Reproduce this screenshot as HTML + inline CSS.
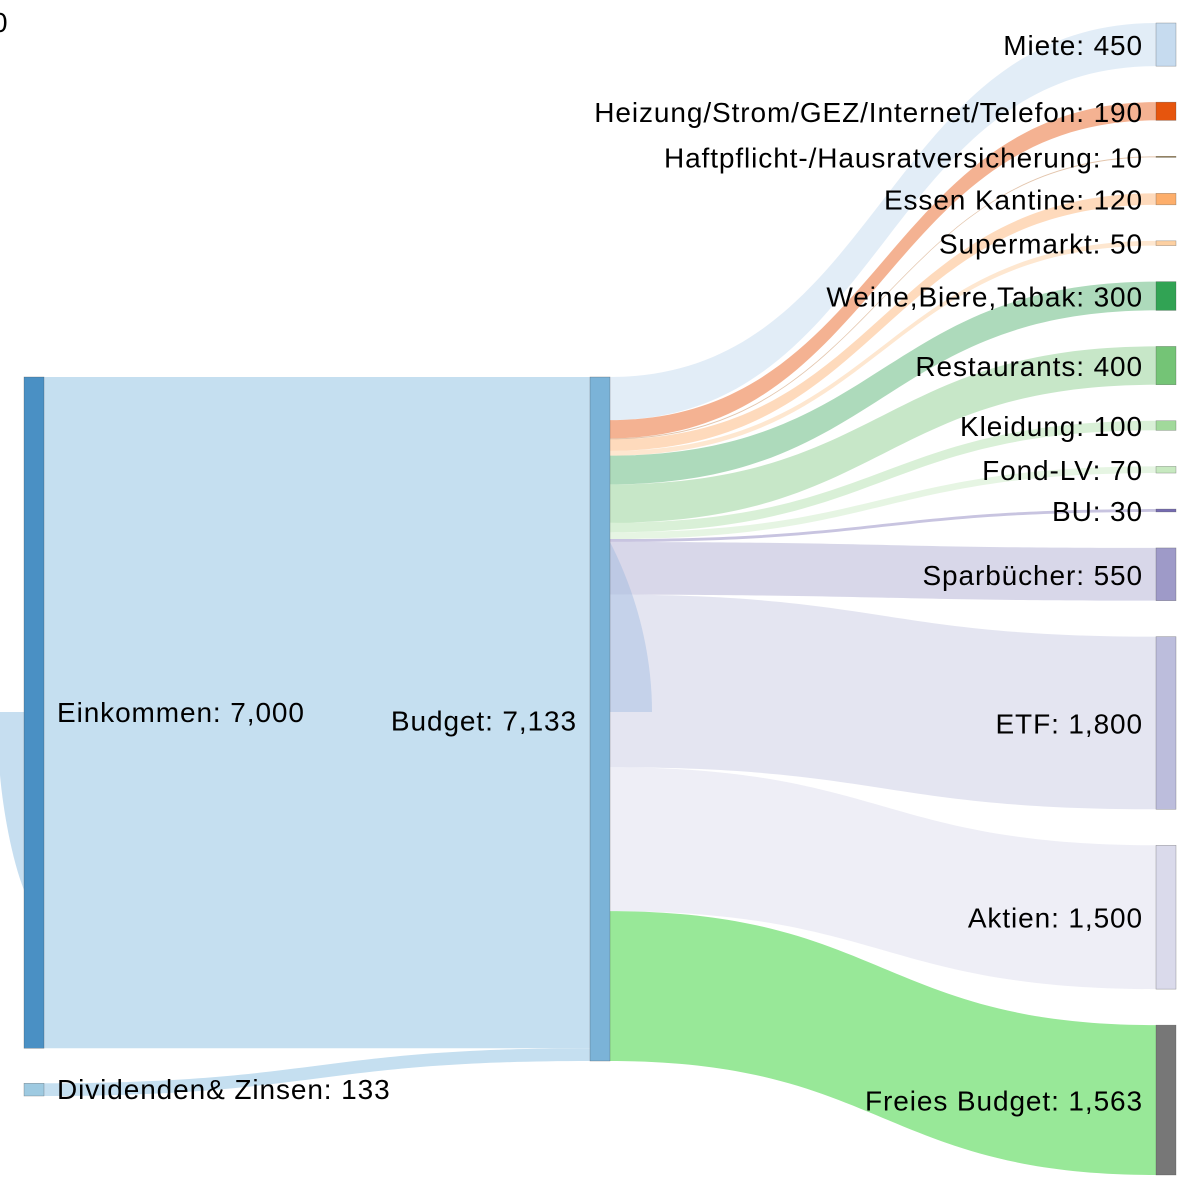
<!DOCTYPE html>
<html><head><meta charset="utf-8">
<style>
html,body{margin:0;padding:0;background:#fff;}
svg{display:block;}
text{font-family:"Liberation Sans",Arial,sans-serif;font-size:28px;letter-spacing:0.9px;fill:#000;}
</style></head>
<body>
<svg id="chart" width="1200" height="1200" viewBox="0 0 1200 1200">
<text x="-8" y="32">0</text>
<g id="links"></g>
<path d="M609,540 C640,600 652,660 652,712 L609,712 Z" fill="rgba(140,175,220,0.35)"/>
<path d="M0,712 L24,712 L24,890 C12,860 3,810 0,775 Z" fill="rgba(160,200,230,0.6)"/>
<g id="nodes"></g>
<g id="labels"></g>
</svg>
<script>
const targetNames = ["Miete","Heizung/Strom/GEZ/Internet/Telefon","Haftpflicht-/Hausratversicherung","Essen Kantine","Supermarkt","Weine,Biere,Tabak","Restaurants","Kleidung","Fond-LV","BU","Sparbücher","ETF","Aktien","Freies Budget"];
const targetValues = [450,190,10,120,50,300,400,100,70,30,550,1800,1500,1563];
const sourceNames = ["Einkommen","Dividenden& Zinsen"];
const sourceValues = [7000,133];
const targetColors = ["#c6dbef","#e6550d","#8c6d31","#fdae6b","#fdd0a2","#31a354","#74c476","#a1d99b","#c7e9c0","#756bb1","#9e9ac8","#bcbddc","#dadaeb","#777777"];
const linkColors = ["rgba(198,219,239,0.5)","rgba(230,85,13,0.45)","rgba(200,140,90,0.5)","rgba(253,174,107,0.45)","rgba(253,208,162,0.5)","rgba(49,163,84,0.4)","rgba(116,196,118,0.4)","rgba(161,217,155,0.4)","rgba(199,233,192,0.45)","rgba(117,107,177,0.4)","rgba(158,154,200,0.4)","rgba(188,189,220,0.4)","rgba(218,218,235,0.45)","#98e898"];

const NS="http://www.w3.org/2000/svg";
const total = sourceValues.reduce((a,b)=>a+b,0);
const top0 = 377, k = 684/total, gapR = (1175-23-total*k)/(targetValues.length-1), gapL = 35;
const xL=24, xM=590, xR=1156, nw=20;
const linksG=document.getElementById('links'), nodesG=document.getElementById('nodes'), labelsG=document.getElementById('labels');
function fmt(v){return v.toLocaleString('en-US');}
function link(x0,y0a,y0b,x1,y1a,y1b,fill,name){
  const p=document.createElementNS(NS,'path');
  const xm=(x0+x1)/2;
  p.setAttribute('d',`M${x0},${y0a} C${xm},${y0a} ${xm},${y1a} ${x1},${y1a} L${x1},${y1b} C${xm},${y1b} ${xm},${y0b} ${x0},${y0b} Z`);
  p.setAttribute('fill',fill);
  
  
  linksG.appendChild(p);
}
function node(x,y,h,fill,name){
  const r=document.createElementNS(NS,'rect');
  r.setAttribute('x',x);r.setAttribute('y',y);r.setAttribute('width',nw);r.setAttribute('height',Math.max(h,1));
  r.setAttribute('fill',fill);r.setAttribute('stroke','rgba(60,60,60,0.5)');r.setAttribute('stroke-width','0.5');
  
  
  nodesG.appendChild(r);
}
function label(x,y,txt,anchor,name){
  const t=document.createElementNS(NS,'text');
  t.setAttribute('x',x);t.setAttribute('y',y);t.setAttribute('text-anchor',anchor);t.setAttribute('dominant-baseline','central');
  t.textContent=txt;
  
  
  labelsG.appendChild(t);
}
const srcColors=["#4a90c4","#9ecae1"], srcLink=["#c5dff0","#c5dff0"];
let yS=top0, yB=top0;
sourceValues.forEach((v,i)=>{
  const h=v*k;
  link(xL+nw,yS,yS+h,xM,yB,yB+h,srcLink[i],'link-'+i+'-to-budget');
  node(xL,yS,h,srcColors[i],'node-source-'+i);
  label(57,yS+h/2,sourceNames[i]+': '+fmt(v),'start','label-source-'+i);
  yS+=h+gapL; yB+=h;
});
node(xM,top0,total*k,"#7bb3d8",'node-budget');
label(577,top0+total*k/2+2,'Budget: '+fmt(total),'end','label-budget');
let yT=23, yO=top0;
targetValues.forEach((v,i)=>{
  const h=v*k;
  link(xM+nw,yO,yO+h,xR,yT,yT+h,linkColors[i],'link-budget-to-'+i);
  node(xR,yT,h,targetColors[i],'node-target-'+i);
  label(1143,yT+h/2+1,targetNames[i]+': '+fmt(v),'end','label-target-'+i);
  yT+=h+gapR; yO+=h;
});
</script>
</body></html>
